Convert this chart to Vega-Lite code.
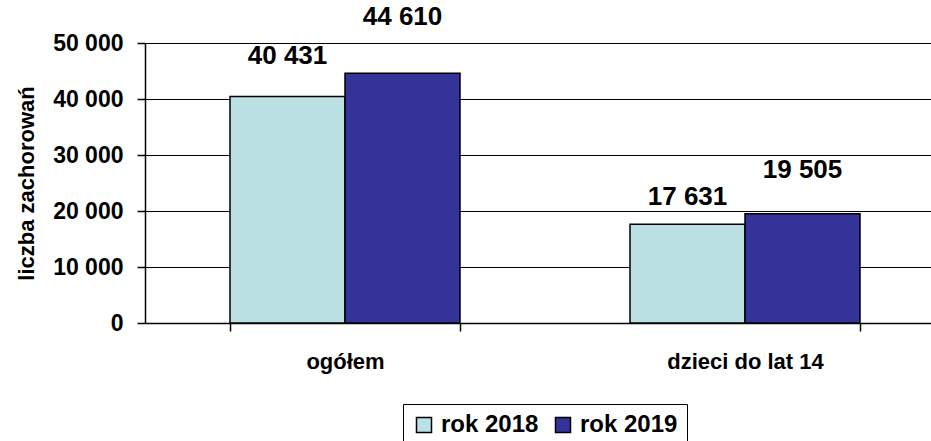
{
  "$schema": "https://vega.github.io/schema/vega-lite/v6.json",
  "width": 800,
  "height": 280,
  "autosize": "none",
  "padding": {"left": 145, "top": 43, "right": 0, "bottom": 118},
  "background": "white",
  "config": {
    "locale": {"number": {"decimal": ",", "thousands": " ", "grouping": [3], "currency": ["", " zł"]}},
    "font": "Liberation Sans",
    "view": {"stroke": null}
  },
  "data": {
    "values": [
      {"grupa": "ogółem", "rok": "rok 2018", "wartosc": 40431},
      {"grupa": "ogółem", "rok": "rok 2019", "wartosc": 44610},
      {"grupa": "dzieci do lat 14", "rok": "rok 2018", "wartosc": 17631},
      {"grupa": "dzieci do lat 14", "rok": "rok 2019", "wartosc": 19505}
    ]
  },
  "encoding": {
    "x": {
      "field": "grupa",
      "type": "nominal",
      "sort": ["ogółem", "dzieci do lat 14"],
      "scale": {"paddingInner": 0.425, "paddingOuter": 0.2125},
      "axis": {
        "title": null,
        "labelAngle": 0,
        "labelFont": "Liberation Sans",
        "labelFontSize": 22,
        "labelFontWeight": "bold",
        "labelColor": "black",
        "labelPadding": 20,
        "tickBand": "extent",
        "tickSize": 8,
        "tickColor": "black",
        "tickWidth": 1.5,
        "domainColor": "black",
        "domainWidth": 1.5,
        "grid": false
      }
    },
    "xOffset": {"field": "rok", "type": "nominal", "sort": ["rok 2018", "rok 2019"]},
    "y": {
      "field": "wartosc",
      "type": "quantitative",
      "scale": {"domain": [0, 50000], "nice": false},
      "axis": {
        "values": [0, 10000, 20000, 30000, 40000, 50000],
        "format": ",d",
        "title": "liczba zachorowań",
        "titleFont": "Liberation Sans",
        "titleFontSize": 22,
        "titleFontWeight": "bold",
        "titleColor": "black",
        "titlePadding": 14,
        "labelFont": "Liberation Sans",
        "labelFontSize": 23,
        "labelFontWeight": "bold",
        "labelColor": "black",
        "labelPadding": 14,
        "tickSize": 8,
        "tickColor": "black",
        "tickWidth": 1.5,
        "domainColor": "black",
        "domainWidth": 1.5,
        "grid": true,
        "gridColor": "black",
        "gridWidth": 1.2,
        "gridOpacity": 1
      }
    }
  },
  "layer": [
    {
      "mark": {"type": "bar", "stroke": "black", "strokeWidth": 1.5},
      "encoding": {
        "color": {
          "field": "rok",
          "type": "nominal",
          "sort": ["rok 2018", "rok 2019"],
          "scale": {"domain": ["rok 2018", "rok 2019"], "range": ["#BAE0E3", "#333399"]},
          "legend": {
            "title": null,
            "orient": "none",
            "direction": "horizontal",
            "legendX": 258,
            "legendY": 361,
            "symbolType": "square",
            "symbolSize": 225,
            "symbolStrokeColor": "black",
            "symbolStrokeWidth": 1.5,
            "symbolOpacity": 1,
            "labelFont": "Liberation Sans",
            "labelFontSize": 24,
            "labelFontWeight": "bold",
            "labelColor": "black",
            "labelOffset": 5,
            "columnPadding": 12,
            "padding": 9,
            "strokeColor": "black",
            "fillColor": "white"
          }
        }
      }
    },
    {
      "transform": [{"filter": "datum.rok == 'rok 2018' && datum.grupa == 'ogółem'"}],
      "mark": {"type": "text", "baseline": "middle", "align": "center", "dy": -41, "font": "Liberation Sans", "fontSize": 26, "fontWeight": "bold", "color": "black"},
      "encoding": {"text": {"field": "wartosc", "type": "quantitative", "format": ",d"}}
    },
    {
      "transform": [{"filter": "datum.rok == 'rok 2019' && datum.grupa == 'ogółem'"}],
      "mark": {"type": "text", "baseline": "middle", "align": "center", "dy": -56, "font": "Liberation Sans", "fontSize": 26, "fontWeight": "bold", "color": "black"},
      "encoding": {"text": {"field": "wartosc", "type": "quantitative", "format": ",d"}}
    },
    {
      "transform": [{"filter": "datum.rok == 'rok 2018' && datum.grupa == 'dzieci do lat 14'"}],
      "mark": {"type": "text", "baseline": "middle", "align": "center", "dy": -27, "font": "Liberation Sans", "fontSize": 26, "fontWeight": "bold", "color": "black"},
      "encoding": {"text": {"field": "wartosc", "type": "quantitative", "format": ",d"}}
    },
    {
      "transform": [{"filter": "datum.rok == 'rok 2019' && datum.grupa == 'dzieci do lat 14'"}],
      "mark": {"type": "text", "baseline": "middle", "align": "center", "dy": -44, "font": "Liberation Sans", "fontSize": 26, "fontWeight": "bold", "color": "black"},
      "encoding": {"text": {"field": "wartosc", "type": "quantitative", "format": ",d"}}
    }
  ]
}
